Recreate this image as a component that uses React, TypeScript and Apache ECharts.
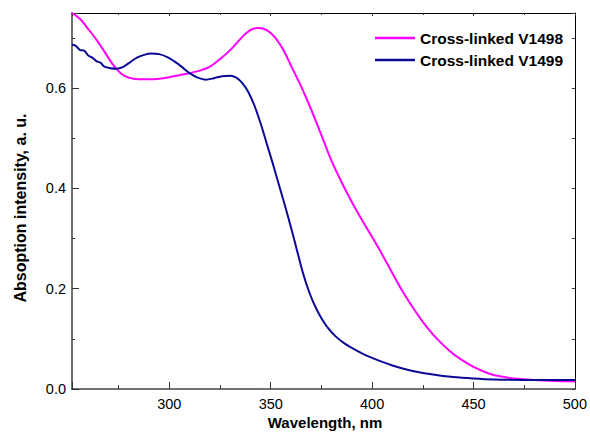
import React, { useEffect, useRef } from "react";
import * as echarts from "echarts";

const seriesNames = ["Cross-linked V1498", "Cross-linked V1499"];

const wl1498 = [252, 256, 260, 264, 268, 272, 276, 280, 285, 290, 295, 300, 305, 310, 315, 320, 325, 330, 335, 338, 341, 344, 348, 352, 356, 360, 364, 368, 372, 376, 380, 385, 390, 395, 400, 405, 410, 415, 420, 425, 430, 435, 440, 445, 450, 455, 460, 465, 470, 480, 490, 500];
const abs1498 = [0.750, 0.738, 0.718, 0.697, 0.673, 0.648, 0.630, 0.621, 0.618, 0.618, 0.619, 0.622, 0.626, 0.630, 0.635, 0.643, 0.658, 0.676, 0.698, 0.710, 0.718, 0.720, 0.716, 0.702, 0.678, 0.645, 0.612, 0.576, 0.537, 0.496, 0.455, 0.412, 0.373, 0.337, 0.303, 0.268, 0.231, 0.195, 0.163, 0.134, 0.109, 0.088, 0.070, 0.056, 0.044, 0.035, 0.028, 0.024, 0.021, 0.018, 0.016, 0.015];

const wl1499 = [252, 254, 256, 258, 260, 262, 264, 266, 268, 271, 274, 277, 280, 284, 288, 291, 295, 299, 303, 306, 310, 314, 318, 322, 326, 330, 333, 336, 339, 342, 345, 348, 351, 354, 357, 360, 363, 366, 369, 372, 375, 378, 382, 386, 390, 395, 400, 405, 410, 415, 420, 430, 440, 450, 460, 475, 500];
const abs1499 = [0.687, 0.684, 0.676, 0.675, 0.665, 0.661, 0.654, 0.651, 0.643, 0.640, 0.639, 0.642, 0.650, 0.661, 0.667, 0.669, 0.668, 0.662, 0.652, 0.643, 0.630, 0.621, 0.617, 0.620, 0.624, 0.625, 0.621, 0.610, 0.592, 0.565, 0.530, 0.490, 0.450, 0.408, 0.366, 0.322, 0.276, 0.230, 0.193, 0.164, 0.141, 0.123, 0.105, 0.092, 0.082, 0.071, 0.062, 0.054, 0.047, 0.041, 0.036, 0.029, 0.024, 0.021, 0.019, 0.018, 0.018];

const xTickLabels = ["300", "350", "400", "450", "500"];
const yTickLabels = ["0.0", "0.2", "0.4", "0.6"];

const FONT = "'Liberation Sans', Arial, sans-serif";

export default function App() {
  const ref = useRef<HTMLDivElement>(null);
  useEffect(() => {
    if (!ref.current) return;
    const chart = echarts.init(ref.current, undefined, { renderer: "svg" });
    const pairs = (xs: number[], ys: number[]) => xs.map((x, i) => [x, ys[i]]);
    const xFmt = (v: number) => (xTickLabels.includes(String(v)) ? String(v) : "");
    const yFmt = (v: number) => {
      const s = v.toFixed(1);
      return Math.abs(v - parseFloat(s)) < 1e-6 && yTickLabels.includes(s) ? s : "";
    };
    chart.setOption({
      animation: false,
      backgroundColor: "#ffffff",
      grid: { left: 72, right: 12, top: 13, bottom: 43, containLabel: false },
      legend: {
        orient: "vertical",
        left: 370,
        top: 25,
        itemWidth: 40,
        itemHeight: 2.5,
        itemGap: 6,
        icon: "rect",
        textStyle: { fontFamily: FONT, fontWeight: "bold", fontSize: 15.5, color: "#000" },
        data: seriesNames,
      },
      xAxis: [
        {
          type: "value",
          min: 252,
          max: 500,
          position: "bottom",
          axisLine: { show: true, onZero: false, lineStyle: { color: "#444", width: 1.5 } },
          axisTick: { show: true, inside: true, length: 7, lineStyle: { color: "#333", width: 1 } },
          minorTick: { show: true, splitNumber: 2, length: 4, lineStyle: { color: "#333" } },
          axisLabel: { formatter: xFmt, fontFamily: FONT, fontSize: 14.5, color: "#000", margin: 7 },
          splitLine: { show: false },
        },
        {
          type: "value",
          min: 252,
          max: 500,
          position: "top",
          axisLine: { show: true, onZero: false, lineStyle: { color: "#000", width: 1 } },
          axisTick: { show: true, inside: true, length: 3, lineStyle: { color: "#333" } },
          minorTick: { show: true, splitNumber: 2, length: 2, lineStyle: { color: "#333" } },
          axisLabel: { show: false },
          splitLine: { show: false },
        },
      ],
      yAxis: [
        {
          type: "value",
          min: 0,
          max: 0.75,
          interval: 0.2,
          position: "left",
          axisLine: { show: true, onZero: false, lineStyle: { color: "#707070", width: 2 } },
          axisTick: { show: true, inside: true, length: 7, lineStyle: { color: "#333" } },
          axisLabel: { formatter: yFmt, fontFamily: FONT, fontSize: 14.5, color: "#000", margin: 6 },
          splitLine: { show: false },
        },
        {
          type: "value",
          min: 0,
          max: 0.75,
          interval: 0.1,
          position: "left",
          axisLine: { show: false },
          axisTick: { show: true, inside: true, length: 3, lineStyle: { color: "#333" } },
          axisLabel: { show: false },
          splitLine: { show: false },
        },
        {
          type: "value",
          min: 0,
          max: 0.75,
          interval: 0.1,
          position: "right",
          axisLine: { show: true, onZero: false, lineStyle: { color: "#000", width: 1 } },
          axisTick: { show: true, inside: true, length: 3, lineStyle: { color: "#333" } },
          axisLabel: { show: false },
          splitLine: { show: false },
        },
      ],
      graphic: [
        {
          type: "text",
          x: 325,
          y: 422,
          style: {
            text: "Wavelength, nm",
            fontFamily: FONT,
            fontWeight: "bold",
            fontSize: 15,
            fill: "#000",
            textAlign: "center",
            textVerticalAlign: "middle",
          },
        },
        {
          type: "text",
          x: 20,
          y: 208,
          rotation: Math.PI / 2,
          style: {
            text: "Absoption intensity, a. u.",
            fontFamily: FONT,
            fontWeight: "bold",
            fontSize: 16,
            fill: "#000",
            textAlign: "center",
            textVerticalAlign: "middle",
          },
        },
      ],
      series: [
        {
          name: seriesNames[0],
          type: "line",
          xAxisIndex: 0,
          yAxisIndex: 0,
          data: pairs(wl1498, abs1498),
          showSymbol: false,
          smooth: 0.3,
          lineStyle: { color: "#ff00ff", width: 2 },
          itemStyle: { color: "#ff00ff" },
          z: 2,
        },
        {
          name: seriesNames[1],
          type: "line",
          xAxisIndex: 0,
          yAxisIndex: 0,
          data: pairs(wl1499, abs1499),
          showSymbol: false,
          smooth: 0.3,
          lineStyle: { color: "#0a0a96", width: 2 },
          itemStyle: { color: "#0a0a96" },
          z: 3,
        },
      ],
    });
    return () => chart.dispose();
  }, []);
  return (
    <div
      ref={ref}
      style={{ position: "fixed", left: 0, top: 0, width: 590, height: 432, background: "#fff" }}
    />
  );
}
